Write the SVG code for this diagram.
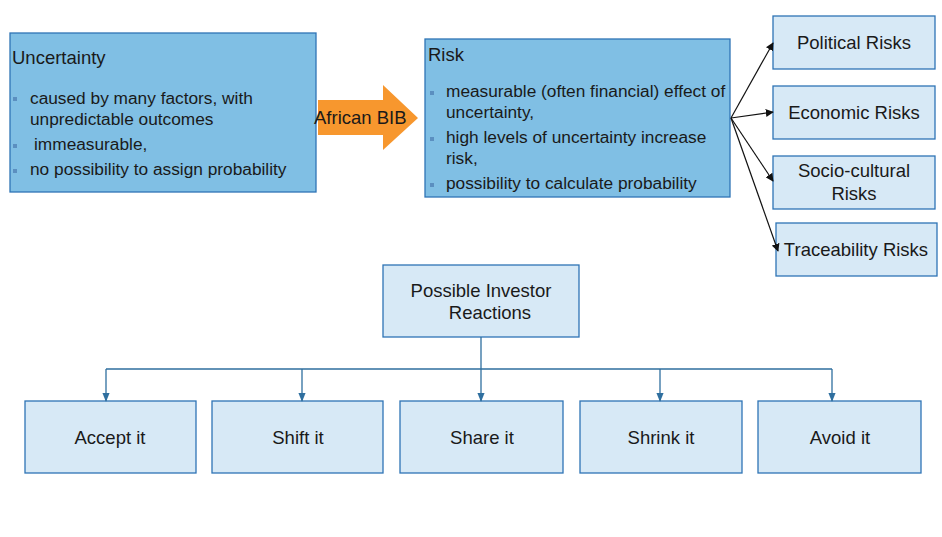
<svg xmlns="http://www.w3.org/2000/svg" width="942" height="537" viewBox="0 0 942 537">
<style>
text{font-family:"Liberation Sans",Arial,sans-serif;font-size:17.3px;fill:#1a1a1a}
.big{font-size:18.5px}
.dark{fill:#80bfe4;stroke:#2e74b5;stroke-width:1.3}
.light{fill:#d7e9f6;stroke:#2e74b5;stroke-width:1.3}
.bul{fill:#5b8fc0}
.c{text-anchor:middle}
.blk{stroke:#111;stroke-width:1.2;fill:none}
.blu{stroke:#2f6f9f;stroke-width:1.3;fill:none}
</style>
<defs>
<marker id="ab" viewBox="0 0 10 10" refX="9" refY="5" markerWidth="8" markerHeight="8" orient="auto" markerUnits="userSpaceOnUse"><path d="M0,0L10,5L0,10z" fill="#111"/></marker>
<marker id="au" viewBox="0 0 10 10" refX="9" refY="5" markerWidth="9" markerHeight="9" orient="auto" markerUnits="userSpaceOnUse"><path d="M0,1L10,5L0,9z" fill="#2f6f9f"/></marker>
</defs>
<rect width="942" height="537" fill="#fff"/>
<g id="uncertainty">
<rect class="dark" x="10" y="33" width="306" height="159"/>
<text class="big" x="12" y="64">Uncertainty</text>
<rect class="bul" x="13" y="97" width="4" height="4"/>
<text x="30" y="104">caused by many factors, with</text>
<text x="30" y="125">unpredictable outcomes</text>
<rect class="bul" x="13" y="144" width="4" height="4"/>
<text x="34" y="150">immeasurable,</text>
<rect class="bul" x="13" y="169" width="4" height="4"/>
<text x="30" y="175">no possibility to assign probability</text>
</g>
<g id="african-bib">
<path d="M318,100H383V85L418,118L383,150V135H318Z" fill="#f7972e"/>
<text class="big" x="314" y="124">African BIB</text>
</g>
<g id="risk">
<rect class="dark" x="425" y="39" width="305" height="158"/>
<text class="big" x="428" y="61">Risk</text>
<rect class="bul" x="430" y="91" width="4" height="4"/>
<text x="446" y="97">measurable (often financial) effect of</text>
<text x="446" y="118">uncertainty,</text>
<rect class="bul" x="430" y="137" width="4" height="4"/>
<text x="446" y="143">high levels of uncertainty increase</text>
<text x="446" y="164">risk,</text>
<rect class="bul" x="430" y="183" width="4" height="4"/>
<text x="446" y="189">possibility to calculate probability</text>
</g>
<g id="political">
<rect class="light" x="773" y="16" width="162" height="53"/>
<text class="c big" x="854" y="49">Political Risks</text>
</g>
<g id="economic">
<rect class="light" x="773" y="86" width="162" height="53"/>
<text class="c big" x="854" y="119">Economic Risks</text>
</g>
<g id="socio">
<rect class="light" x="773" y="156" width="162" height="53"/>
<text class="c big" x="854" y="177">Socio-cultural</text>
<text class="c big" x="854" y="200">Risks</text>
</g>
<g id="traceability">
<rect class="light" x="776" y="223" width="161" height="53"/>
<text class="c big" x="856" y="256">Traceability Risks</text>
</g>
<g id="investor">
<rect class="light" x="383" y="265" width="196" height="72"/>
<text class="c big" x="481" y="297">Possible Investor</text>
<text class="c big" x="490" y="319">Reactions</text>
</g>
<g id="accept"><rect class="light" x="25" y="401" width="171" height="72"/><text class="c big" x="110" y="444">Accept it</text></g>
<g id="shift"><rect class="light" x="212" y="401" width="171" height="72"/><text class="c big" x="298" y="444">Shift it</text></g>
<g id="share"><rect class="light" x="400" y="401" width="163" height="72"/><text class="c big" x="482" y="444">Share it</text></g>
<g id="shrink"><rect class="light" x="580" y="401" width="162" height="72"/><text class="c big" x="661" y="444">Shrink it</text></g>
<g id="avoid"><rect class="light" x="758" y="401" width="163" height="72"/><text class="c big" x="840" y="444">Avoid it</text></g>
<g id="connectors">
<path class="blk" d="M731,118L773,43" marker-end="url(#ab)"/>
<path class="blk" d="M731,118L773,112" marker-end="url(#ab)"/>
<path class="blk" d="M731,118L773,181" marker-end="url(#ab)"/>
<path class="blk" d="M731,118L778,251" marker-end="url(#ab)"/>
<path class="blu" d="M481,337V369M106,369H832"/>
<path class="blu" d="M106,369V401" marker-end="url(#au)"/>
<path class="blu" d="M302,369V401" marker-end="url(#au)"/>
<path class="blu" d="M481,369V401" marker-end="url(#au)"/>
<path class="blu" d="M660,369V401" marker-end="url(#au)"/>
<path class="blu" d="M832,369V401" marker-end="url(#au)"/>
</g>
</svg>
